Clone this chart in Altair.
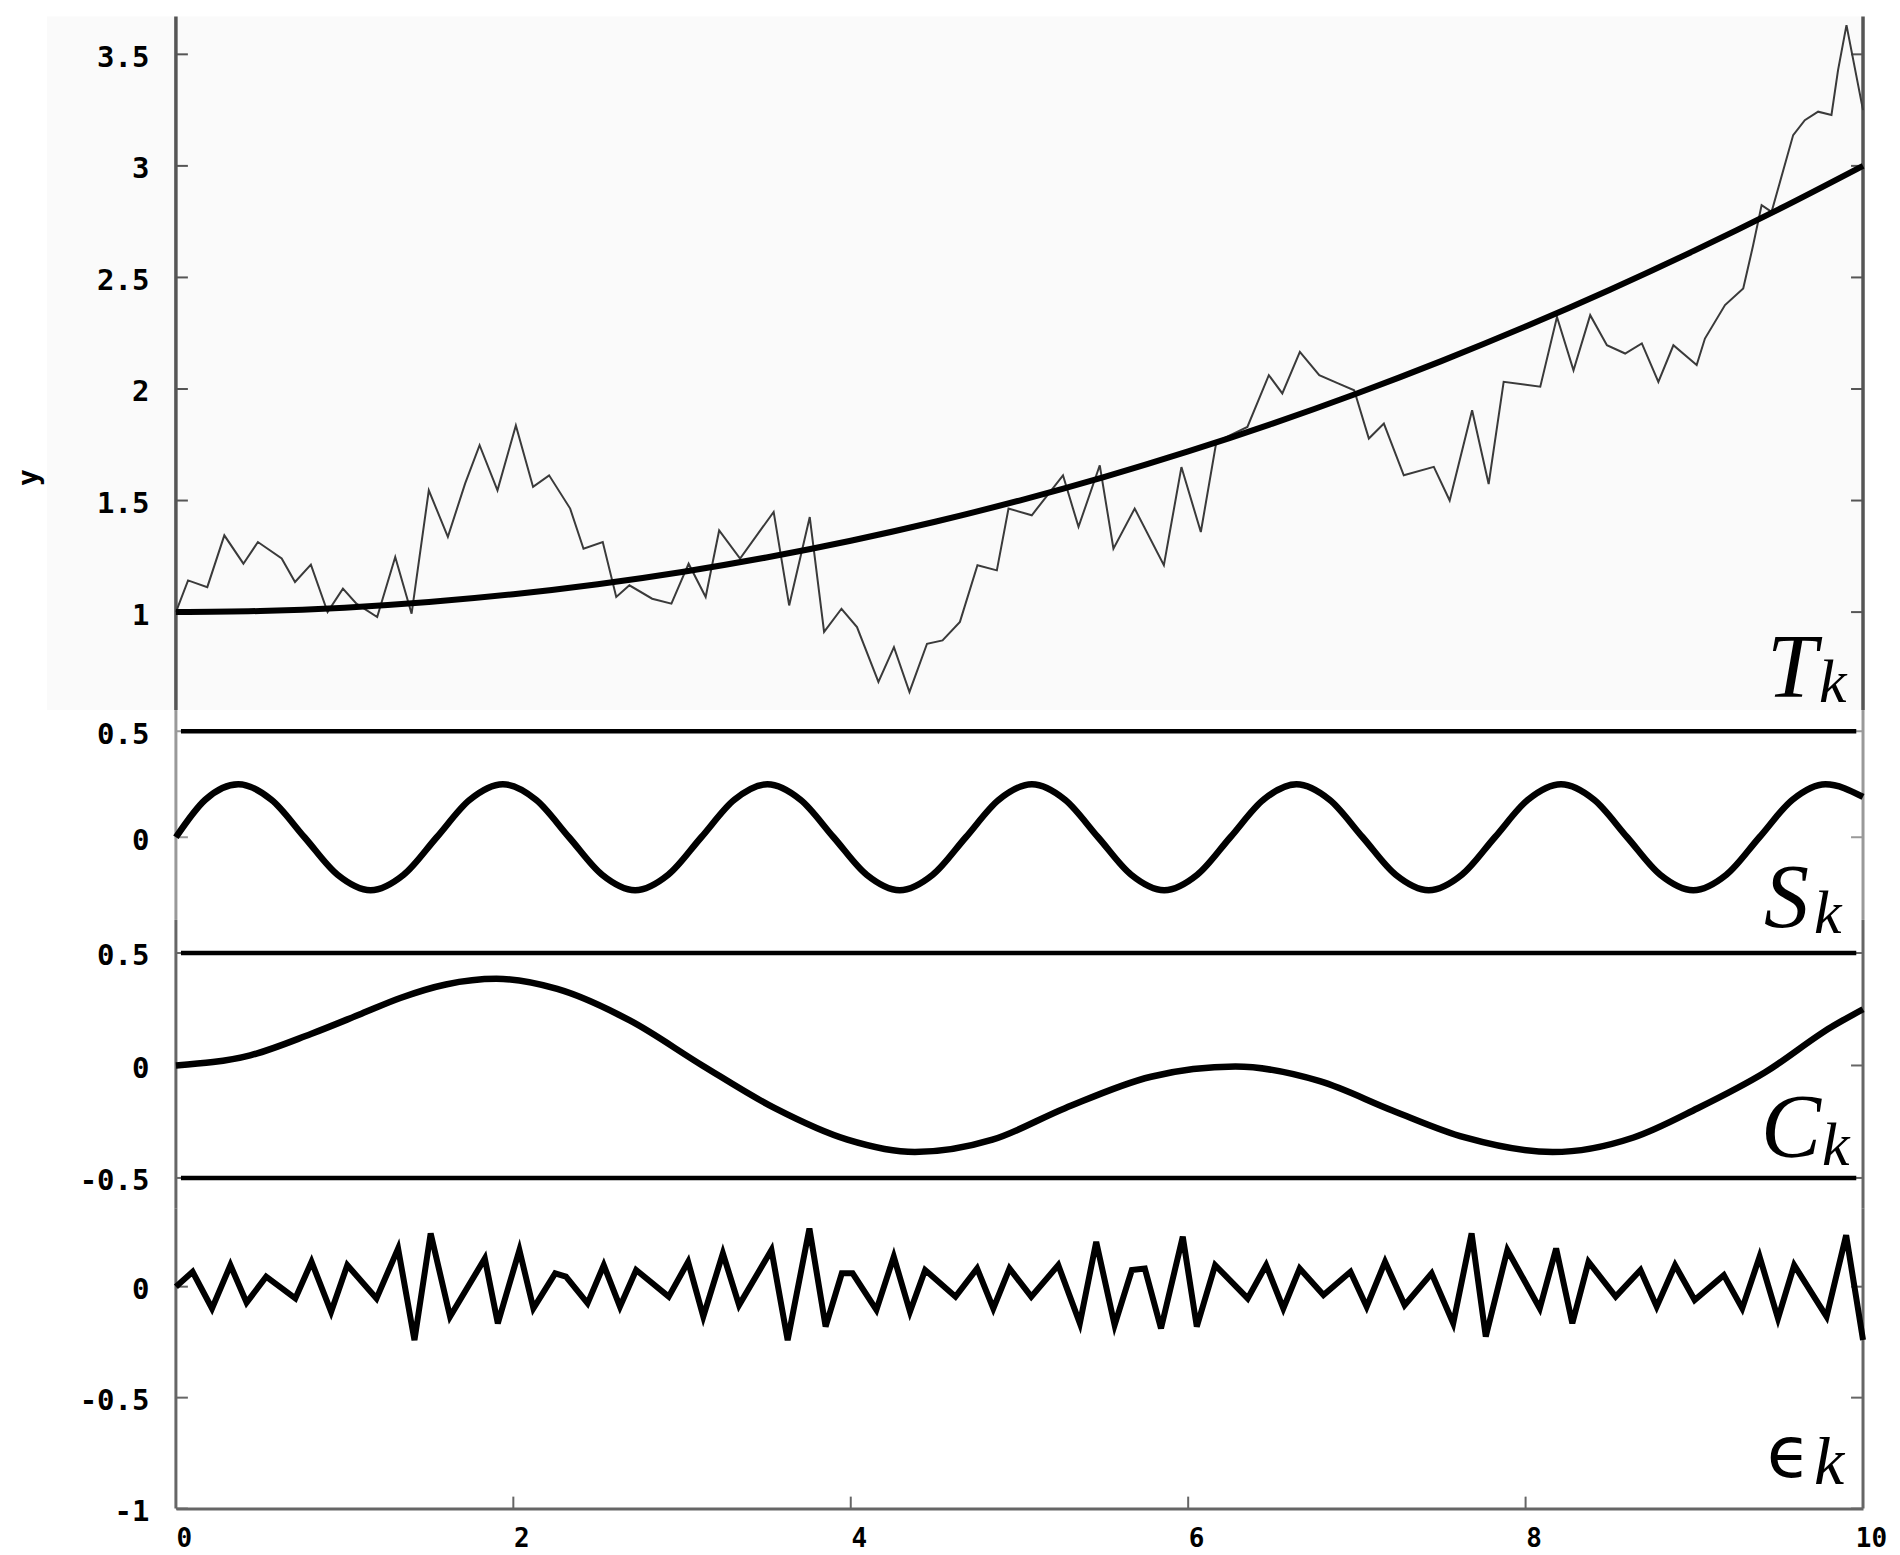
import altair as alt
import pandas as pd

# ---------------- data ----------------
x_tick_values = [0, 2, 4, 6, 8, 10]

# top panel: trend T_k (thick) and the observed series (thin)
trend_x = [0, 0.5, 1, 1.5, 2, 2.5, 3, 3.5, 4, 4.5, 5, 5.5, 6, 6.5, 7, 7.5, 8, 8.5, 9, 9.5, 10]
trend_y = [1.0, 1.005, 1.02, 1.045, 1.08, 1.125, 1.18, 1.245, 1.32, 1.405, 1.5, 1.605, 1.72,
           1.845, 1.98, 2.125, 2.28, 2.445, 2.62, 2.805, 3.0]

obs_x = [0, 0.072, 0.186, 0.287, 0.40, 0.486, 0.627, 0.706, 0.80, 0.899, 0.99, 1.07, 1.193,
         1.30, 1.397, 1.499, 1.612, 1.714, 1.80, 1.906, 2.015, 2.117, 2.212, 2.337, 2.416,
         2.53, 2.61, 2.688, 2.823, 2.937, 3.039, 3.14, 3.22, 3.344, 3.543, 3.635, 3.757,
         3.842, 3.945, 4.037, 4.164, 4.256, 4.348, 4.452, 4.544, 4.647, 4.751, 4.866, 4.935,
         5.073, 5.258, 5.35, 5.476, 5.557, 5.683, 5.856, 5.96, 6.075, 6.167, 6.351, 6.478,
         6.558, 6.662, 6.777, 6.892, 6.984, 7.071, 7.16, 7.278, 7.456, 7.55, 7.683, 7.781,
         7.87, 8.087, 8.186, 8.284, 8.383, 8.482, 8.59, 8.689, 8.787, 8.876, 9.014, 9.063,
         9.182, 9.29, 9.349, 9.399, 9.458, 9.586, 9.655, 9.734, 9.813, 9.852, 9.902, 10.0]
obs_y = [1.0, 1.142, 1.112, 1.344, 1.217, 1.314, 1.24, 1.135, 1.213, 1.0, 1.105, 1.038, 0.978,
         1.247, 0.993, 1.546, 1.337, 1.576, 1.748, 1.546, 1.837, 1.561, 1.613, 1.464, 1.284,
         1.314, 1.068, 1.12, 1.06, 1.038, 1.217, 1.068, 1.366, 1.24, 1.449, 1.03, 1.426,
         0.911, 1.015, 0.933, 0.687, 0.843, 0.642, 0.858, 0.873, 0.956, 1.21, 1.187, 1.464,
         1.434, 1.613, 1.382, 1.658, 1.284, 1.464, 1.21, 1.65, 1.359, 1.763, 1.83, 2.062,
         1.98, 2.166, 2.062, 2.024, 1.994, 1.778, 1.845, 1.613, 1.651, 1.50, 1.905, 1.574,
         2.032, 2.01, 2.323, 2.084, 2.331, 2.196, 2.159, 2.204, 2.032, 2.196, 2.107, 2.226,
         2.376, 2.45, 2.645, 2.824, 2.794, 3.138, 3.205, 3.243, 3.228, 3.429, 3.631, 3.25]

# seasonal component S_k (extrema, zero crossings and mid points)
season_x = [0, 0.174, 0.37, 0.566, 0.762, 0.958, 1.154, 1.35, 1.546, 1.742, 1.938, 2.134,
            2.33, 2.526, 2.722, 2.918, 3.114, 3.31, 3.506, 3.702, 3.898, 4.094, 4.29, 4.486,
            4.682, 4.878, 5.074, 5.27, 5.466, 5.662, 5.858, 6.054, 6.25, 6.446, 6.642, 6.838,
            7.034, 7.23, 7.426, 7.622, 7.818, 8.014, 8.21, 8.406, 8.602, 8.798, 8.994, 9.19,
            9.386, 9.582, 9.778, 10.0]
season_y = [0, 0.177, 0.25, 0.177, 0, -0.177, -0.25, -0.177,
            0, 0.177, 0.25, 0.177, 0, -0.177, -0.25, -0.177,
            0, 0.177, 0.25, 0.177, 0, -0.177, -0.25, -0.177,
            0, 0.177, 0.25, 0.177, 0, -0.177, -0.25, -0.177,
            0, 0.177, 0.25, 0.177, 0, -0.177, -0.25, -0.177,
            0, 0.177, 0.25, 0.177, 0, -0.177, -0.25, -0.177,
            0, 0.177, 0.25, 0.19]

# cyclic component C_k
cycle_x = [0, 0.44, 0.8, 1.1, 1.33, 1.6, 1.9, 2.26, 2.69, 3.12, 3.55, 3.98, 4.38, 4.84,
           5.27, 5.78, 6.28, 6.78, 7.21, 7.64, 8.16, 8.64, 9.02, 9.42, 9.81, 10.0]
cycle_y = [0, 0.045, 0.14, 0.23, 0.30, 0.36, 0.385, 0.34, 0.20, 0.0, -0.19, -0.33, -0.385,
           -0.33, -0.19, -0.05, -0.005, -0.07, -0.2, -0.32, -0.385, -0.32, -0.19, -0.03,
           0.17, 0.25]

# irregular component eps_k (zig-zag vertices)
noise_x = [0, 0.099, 0.214, 0.323, 0.419, 0.535, 0.708, 0.804, 0.92, 1.016, 1.189, 1.317,
           1.414, 1.51, 1.625, 1.831, 1.908, 2.036, 2.119, 2.248, 2.312, 2.44, 2.536, 2.632,
           2.728, 2.921, 3.036, 3.126, 3.242, 3.338, 3.53, 3.626, 3.755, 3.851, 3.947, 4.011,
           4.152, 4.255, 4.351, 4.441, 4.621, 4.749, 4.845, 4.941, 5.07, 5.23, 5.358, 5.455,
           5.564, 5.666, 5.743, 5.839, 5.968, 6.051, 6.16, 6.353, 6.462, 6.564, 6.661, 6.802,
           6.962, 7.058, 7.167, 7.283, 7.443, 7.571, 7.68, 7.764, 7.892, 8.084, 8.181, 8.277,
           8.373, 8.534, 8.681, 8.777, 8.886, 9.002, 9.175, 9.284, 9.387, 9.496, 9.592, 9.784,
           9.9, 10.0]
noise_y = [0.0, 0.067, -0.098, 0.097, -0.072, 0.045, -0.053, 0.112, -0.113, 0.097, -0.053,
           0.172, -0.241, 0.24, -0.135, 0.127, -0.165, 0.165, -0.098, 0.06, 0.045, -0.075,
           0.097, -0.09, 0.075, -0.045, 0.112, -0.135, 0.15, -0.083, 0.165, -0.241, 0.262,
           -0.18, 0.06, 0.06, -0.105, 0.135, -0.113, 0.075, -0.045, 0.082, -0.098, 0.082,
           -0.045, 0.097, -0.165, 0.202, -0.173, 0.075, 0.082, -0.188, 0.225, -0.18, 0.097,
           -0.053, 0.097, -0.098, 0.082, -0.038, 0.067, -0.09, 0.112, -0.083, 0.06, -0.165,
           0.24, -0.225, 0.165, -0.098, 0.172, -0.165, 0.112, -0.045, 0.075, -0.09, 0.097,
           -0.06, 0.052, -0.098, 0.135, -0.143, 0.097, -0.135, 0.232, -0.24]

t_ticks = [1, 1.5, 2, 2.5, 3, 3.5]
s_ticks = [0, 0.5]
c_ticks = [-0.5, 0, 0.5]
e_ticks = [-1, -0.5, 0]
s_levels = [0.5]
c_levels = [-0.5, 0.5]

# ---------------- styling / layout ----------------
W = 1688
MONO = "DejaVu Sans Mono"
SERIF = "Liberation Serif"
LABEL_SIZE = 29
TICK_LEN = 0.071   # inward tick length in x units (~12 px)
XS = alt.Scale(domain=[0, 10], nice=False, zero=False)


def y_axis(values, with_title=False):
    opts = dict(values=values, ticks=False, domain=False, grid=False,
                labelFont=MONO, labelFontSize=LABEL_SIZE, labelFontWeight="bold",
                labelColor="#000", labelPadding=27, labelOffset=3,
                labelExpr="'' + datum.value", minExtent=160, maxExtent=160, zindex=1)
    if with_title:
        opts.update(titleFont=MONO, titleFontSize=28, titleFontWeight="bold",
                    titleColor="#000", titleAngle=270, titleX=-146, titleY=461,
                    titleAlign="center", titleBaseline="middle")
    return alt.Axis(**opts)


class Panel:
    """Builds the layers of one panel; every layer shares the same axis definitions."""

    def __init__(self, ys, yax, ytitle, xax=None):
        self.ys, self.yax, self.ytitle, self.xax = ys, yax, ytitle, xax

    def X(self, f):
        return alt.X(f, scale=XS, axis=self.xax, title=None)

    def Y(self, f):
        return alt.Y(f, scale=self.ys, axis=self.yax, title=self.ytitle)

    def frame(self, ymin, ymax, ticks, color, width):
        edges = pd.DataFrame({"x": [0, 10], "ya": [ymin, ymin], "yb": [ymax, ymax]})
        e = alt.Chart(edges).mark_rule(color=color, strokeWidth=width).encode(
            x=self.X("x:Q"), y=self.Y("ya:Q"), y2="yb:Q")
        tk = pd.DataFrame({"v": ticks})
        tk["l0"] = 0.0
        tk["l1"] = TICK_LEN
        tk["r0"] = 10 - TICK_LEN
        tk["r1"] = 10.0
        left = alt.Chart(tk).mark_rule(color=color, strokeWidth=2).encode(
            y=self.Y("v:Q"), x=self.X("l0:Q"), x2="l1:Q")
        right = alt.Chart(tk).mark_rule(color=color, strokeWidth=2).encode(
            y=self.Y("v:Q"), x=self.X("r0:Q"), x2="r1:Q")
        return [e, left, right]

    def series(self, xv, yv, **mark):
        df = pd.DataFrame({"x": xv, "y": yv})
        return alt.Chart(df).mark_line(**mark).encode(x=self.X("x:Q"), y=self.Y("y:Q"))

    def levels(self, vals):
        df = pd.DataFrame({"y": vals})
        df["x0"] = 0.03
        df["x1"] = 9.96
        return alt.Chart(df).mark_rule(color="#000", strokeWidth=4.5).encode(
            y=self.Y("y:Q"), x=self.X("x0:Q"), x2="x1:Q")

    def label(self, txt, x, y, size, font, style):
        df = pd.DataFrame({"t": [txt], "x": [x], "y": [y]})
        return alt.Chart(df).mark_text(align="left", baseline="alphabetic", font=font,
                                       fontSize=size, fontStyle=style, color="#000").encode(
            x=self.X("x:Q"), y=self.Y("y:Q"), text="t:N")


# ---- panel 1: T_k ----
T_MIN, T_MAX = 0.561, 3.67
P1 = Panel(alt.Scale(domain=[T_MIN, T_MAX], nice=False, zero=False),
           y_axis(t_ticks, True), "y")
bg_df = pd.DataFrame({"x0": [-0.765], "x1": [10.0], "y0": [T_MIN], "y1": [T_MAX]})
bg = alt.Chart(bg_df).mark_rect(color="#fafafa").encode(
    x=P1.X("x0:Q"), x2="x1:Q", y=P1.Y("y0:Q"), y2="y1:Q")
p1 = alt.layer(
    bg,
    *P1.frame(T_MIN, T_MAX, t_ticks, "#555", 3.5),
    P1.series(obs_x, obs_y, color="#3a3a3a", strokeWidth=2),
    P1.series(trend_x, trend_y, color="#000", strokeWidth=6, interpolate="monotone"),
    P1.label("T", 9.431, 0.619, 90, SERIF, "italic"),
    P1.label("k", 9.739, 0.596, 62, SERIF, "italic"),
).properties(width=W, height=694)

# ---- panel 2: S_k ----
S_MIN, S_MAX = -0.39, 0.6
P2 = Panel(alt.Scale(domain=[S_MIN, S_MAX], nice=False, zero=False), y_axis(s_ticks), None)
p2 = alt.layer(
    *P2.frame(S_MIN, S_MAX, s_ticks, "#999", 3),
    P2.levels(s_levels),
    P2.series(season_x, season_y, color="#000", strokeWidth=6.5, interpolate="monotone"),
    P2.label("S", 9.413, -0.425, 90, SERIF, "italic"),
    P2.label("k", 9.710, -0.453, 62, SERIF, "italic"),
).properties(width=W, height=210)

# ---- panel 3: C_k ----
C_MIN, C_MAX = -0.637, 0.647
P3 = Panel(alt.Scale(domain=[C_MIN, C_MAX], nice=False, zero=False), y_axis(c_ticks), None)
p3 = alt.layer(
    *P3.frame(C_MIN, C_MAX, c_ticks, "#666", 3),
    P3.levels(c_levels),
    P3.series(cycle_x, cycle_y, color="#000", strokeWidth=6.5, interpolate="monotone"),
    P3.label("C", 9.396, -0.409, 90, SERIF, "italic"),
    P3.label("k", 9.757, -0.444, 62, SERIF, "italic"),
).properties(width=W, height=289)

# ---- panel 4: eps_k ----
E_MIN, E_MAX = -1.0, 0.351
x_axis = alt.Axis(values=x_tick_values, ticks=False, domain=True, domainColor="#666",
                  domainWidth=3, grid=False, labelFont=MONO, labelFontSize=26,
                  labelFontWeight="bold", labelColor="#000", labelPadding=17, labelOffset=8,
                  labelFlush=False, labelExpr="'' + datum.value", zindex=1)
P4 = Panel(alt.Scale(domain=[E_MIN, E_MAX], nice=False, zero=False), y_axis(e_ticks), None,
           xax=x_axis)
xt = pd.DataFrame({"x": x_tick_values[1:-1]})
xt["y0"] = E_MIN
xt["y1"] = E_MIN + 0.054
x_ticks_marks = alt.Chart(xt).mark_rule(color="#666", strokeWidth=2).encode(
    x=P4.X("x:Q"), y=P4.Y("y0:Q"), y2="y1:Q")
p4 = alt.layer(
    *P4.frame(E_MIN, E_MAX, e_ticks, "#666", 3),
    x_ticks_marks,
    P4.series(noise_x, noise_y, color="#000", strokeWidth=6, strokeJoin="miter",
              strokeMiterLimit=4),
    P4.label("\u03f5", 9.43, -0.856, 72, "DejaVu Sans", "normal"),
    P4.label("k", 9.71, -0.887, 68, SERIF, "italic"),
).properties(width=W, height=300)

chart = alt.vconcat(p1, p2, p3, p4, spacing=0, bounds="flush").properties(
    padding={"left": 8, "top": 6, "right": 5, "bottom": 3},
    background="white",
).configure_view(stroke=None)

chart.save("out.html", embed_options={"renderer": "svg", "actions": False})
